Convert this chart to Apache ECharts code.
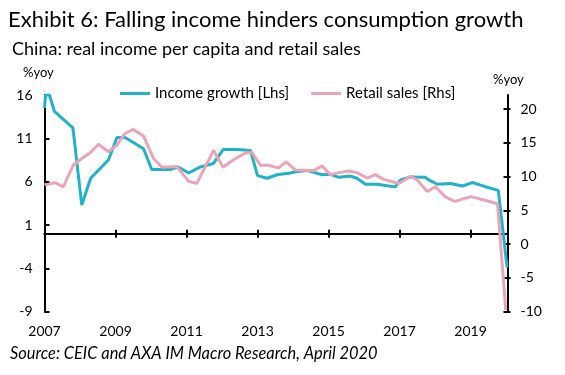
<!DOCTYPE html>
<html>
<head>
<meta charset="utf-8">
<script src="https://cdn.jsdelivr.net/npm/echarts@6/dist/echarts.min.js"></script>
<style>
html, body { margin: 0; padding: 0; background: #fff; }
#chart { width: 565px; height: 375px; }
</style>
</head>
<body>
<div id="chart"></div>
<script>
// income growth, %yoy (left axis), points as decimal years
var incomeDates = [2007.0, 2007.03, 2007.14, 2007.28, 2007.8, 2008.05, 2008.3, 2008.8, 2009.04, 2009.27, 2009.79, 2010.02, 2010.54, 2010.77, 2011.06, 2011.39, 2011.76, 2012.03, 2012.42, 2012.8, 2013.0, 2013.27, 2013.55, 2013.92, 2014.07, 2014.39, 2014.82, 2015.05, 2015.29, 2015.62, 2015.8, 2016.04, 2016.37, 2016.7, 2016.88, 2017.03, 2017.31, 2017.73, 2017.82, 2018.06, 2018.43, 2018.77, 2019.05, 2019.39, 2019.78, 2020.03];
var incomeValues = [14.5, 16, 16, 14.1, 12.2, 3.3, 6.4, 8.5, 11.1, 11.1, 9.8, 7.4, 7.4, 7.7, 7.0, 7.7, 8.1, 9.7, 9.7, 9.6, 6.7, 6.4, 6.8, 7.0, 7.15, 7.3, 6.8, 6.85, 6.5, 6.65, 6.4, 5.7, 5.7, 5.5, 5.4, 6.2, 6.55, 6.5, 6.2, 5.7, 5.8, 5.5, 5.9, 5.45, 5.0, -3.9];

// retail sales, %yoy (right axis)
var retailDates = [2007.0, 2007.11, 2007.3, 2007.53, 2007.81, 2008.05, 2008.28, 2008.52, 2008.8, 2009.04, 2009.27, 2009.5, 2009.79, 2010.07, 2010.31, 2010.73, 2011.06, 2011.29, 2011.76, 2012.03, 2012.32, 2012.65, 2012.84, 2013.08, 2013.3, 2013.59, 2013.81, 2014.06, 2014.58, 2014.82, 2015.05, 2015.29, 2015.57, 2015.8, 2016.09, 2016.32, 2016.55, 2016.98, 2017.31, 2017.5, 2017.78, 2018.01, 2018.29, 2018.55, 2019.01, 2019.37, 2019.76, 2019.99];
var retailValues = [8.8, 8.9, 9.1, 8.5, 11.7, 12.7, 13.5, 14.8, 13.7, 14.7, 16.4, 17.0, 16.0, 12.7, 11.4, 11.5, 9.3, 9.0, 13.9, 11.4, 12.5, 13.5, 13.6, 11.7, 11.7, 11.3, 12.2, 11.0, 10.9, 11.6, 10.3, 10.6, 10.85, 10.6, 9.8, 10.3, 9.6, 9.0, 10.05, 9.5, 7.8, 8.5, 7.0, 6.35, 7.04, 6.55, 6.0, -9.75];

// tick labels
var xTicks = [2007, 2009, 2011, 2013, 2015, 2017, 2019];
var leftTicks = [-9, -4, 1, 6, 11, 16];
var rightTicks = [-10, -5, 0, 5, 10, 15, 20];

var FONT = 'Lato';
var teal = '#1FB2C9';
var pink = '#EBA3B8';

function pairs(xs, ys) {
  var out = [];
  for (var i = 0; i < xs.length; i++) out.push([xs[i], ys[i]]);
  return out;
}

function txt(size, extra) {
  var s = { fontFamily: FONT, fontSize: size, fontWeight: 'normal', color: '#000' };
  for (var k in extra) s[k] = extra[k];
  return s;
}

var axisLineStyle = { color: '#000', width: 2 };

var option = {
  animation: false,
  backgroundColor: '#fff',
  textStyle: { fontFamily: FONT, color: '#000' },
  title: [
    { text: 'Exhibit 6: Falling income hinders consumption growth', left: 8, top: 9, padding: 0, textStyle: txt(22) },
    { text: 'China: real income per capita and retail sales', left: 12, top: 40, padding: 0, textStyle: txt(18) },
    { text: '%yoy', left: 23, top: 66, padding: 0, textStyle: txt(13) },
    { text: '%yoy', left: 493, top: 73, padding: 0, textStyle: txt(13) },
    { text: 'Source: CEIC and AXA IM Macro Research, April 2020', left: 10, top: 346, padding: 0,
      textStyle: txt(16.4, { fontStyle: 'italic' }) }
  ],
  legend: {
    left: 115, top: 81,
    icon: 'rect', itemWidth: 30, itemHeight: 3, itemGap: 22,
    textStyle: { fontFamily: FONT, fontSize: 15, color: '#000' },
    data: ['Income growth [Lhs]', 'Retail sales [Rhs]']
  },
  grid: { left: 44.5, right: 57.5, top: 95, bottom: 63.3 },
  xAxis: [
    { // labels at the bottom
      type: 'value', min: 2007, max: 2020.04, position: 'bottom',
      axisLine: { show: false, onZero: false }, axisTick: { show: false }, splitLine: { show: false },
      axisLabel: { customValues: xTicks, margin: 13, fontSize: 14, color: '#000', fontFamily: FONT,
        formatter: function (v) { return String(v); } }
    },
    { // zero line, ticks up
      type: 'value', min: 2007, max: 2020.04, position: 'bottom',
      axisLine: { show: true, onZero: true, onZeroAxisIndex: 0, lineStyle: axisLineStyle },
      axisTick: { show: true, inside: true, length: 4, customValues: xTicks, lineStyle: axisLineStyle },
      axisLabel: { show: false }, splitLine: { show: false }
    },
    { // zero line, ticks down
      type: 'value', min: 2007, max: 2020.04, position: 'bottom',
      axisLine: { show: true, onZero: true, onZeroAxisIndex: 0, lineStyle: axisLineStyle },
      axisTick: { show: true, inside: false, length: 4, customValues: xTicks, lineStyle: axisLineStyle },
      axisLabel: { show: false }, splitLine: { show: false }
    }
  ],
  yAxis: [
    {
      type: 'value', min: -9, max: 16, position: 'left',
      axisLine: { show: true, onZero: false, lineStyle: axisLineStyle },
      axisTick: { show: true, inside: true, length: 5, customValues: leftTicks, lineStyle: axisLineStyle },
      axisLabel: { customValues: leftTicks, margin: 12, fontSize: 14, color: '#000', fontFamily: FONT },
      splitLine: { show: false }
    },
    {
      type: 'value', min: -10, max: 22.1, position: 'right',
      axisLine: { show: true, onZero: false, lineStyle: axisLineStyle },
      axisTick: { show: true, inside: true, length: 4, customValues: rightTicks, lineStyle: axisLineStyle },
      axisLabel: { customValues: rightTicks, margin: 13, fontSize: 14, color: '#000', fontFamily: FONT },
      splitLine: { show: false }
    },
    {
      type: 'value', min: -10, max: 22.1, position: 'right',
      axisLine: { show: false, onZero: false },
      axisTick: { show: true, inside: false, length: 3, customValues: rightTicks, lineStyle: axisLineStyle },
      axisLabel: { show: false },
      splitLine: { show: false }
    }
  ],
  series: [
    {
      name: 'Income growth [Lhs]', type: 'line', xAxisIndex: 0, yAxisIndex: 0,
      symbol: 'none', color: teal,
      lineStyle: { color: teal, width: 3 },
      data: pairs(incomeDates, incomeValues)
    },
    {
      name: 'Retail sales [Rhs]', type: 'line', xAxisIndex: 0, yAxisIndex: 1,
      symbol: 'none', color: pink,
      lineStyle: { color: pink, width: 3 },
      data: pairs(retailDates, retailValues)
    }
  ]
};

var myChart = echarts.init(document.getElementById('chart'));
myChart.setOption(option);
</script>
</body>
</html>
